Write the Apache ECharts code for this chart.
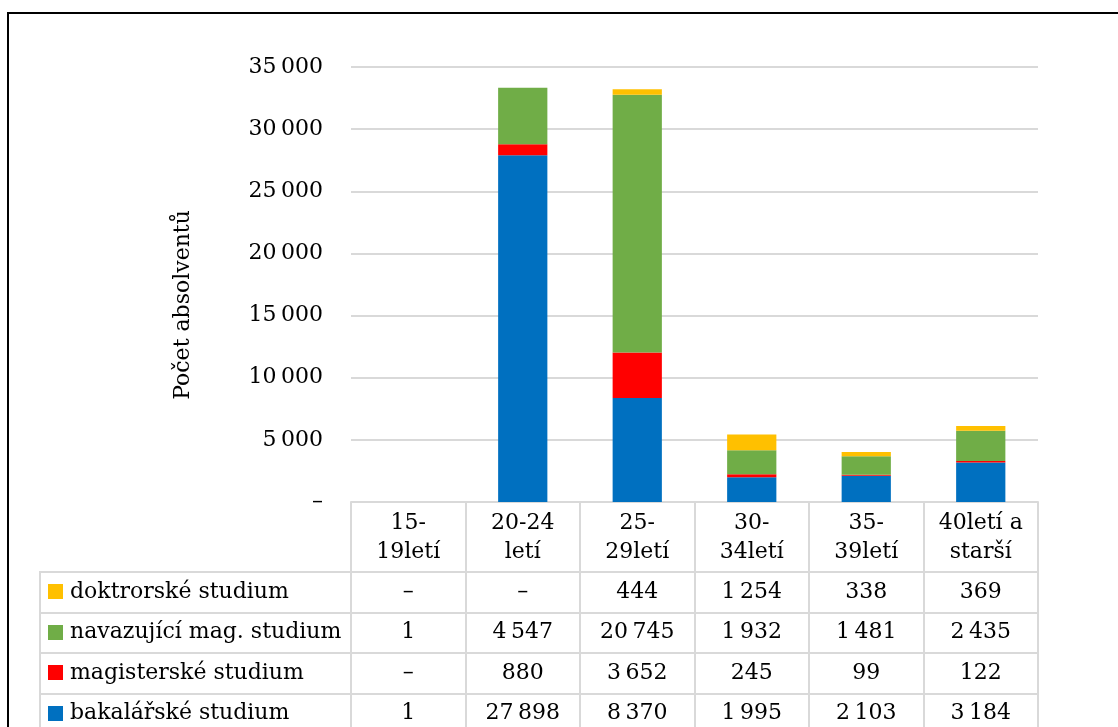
<!DOCTYPE html>
<html lang="cs">
<head>
<meta charset="utf-8">
<title>Počet absolventů podle věku a typu studia</title>
<script src="https://cdn.jsdelivr.net/npm/echarts@6/dist/echarts.min.js"></script>
<style>
  html, body { margin: 0; padding: 0; background: #fff; }
  #chart { width: 1118px; height: 727px; }
</style>
</head>
<body>
<div id="chart"></div>
<script>
// Věkové skupiny (kategorie osy x)
const categories = ['15-\n19letí', '20-24\nletí', '25-\n29letí', '30-\n34letí', '35-\n39letí', '40letí a\nstarší'];

// Počty absolventů podle typu studia (null = žádní absolventi)
const bakalarske = [1, 27898, 8370, 1995, 2103, 3184];
const magisterske = [null, 880, 3652, 245, 99, 122];
const navazujici = [1, 4547, 20745, 1932, 1481, 2435];
const doktorske = [null, null, 444, 1254, 338, 369];

const seriesNames = {
  bak: 'bakalářské studium',
  mag: 'magisterské studium',
  nav: 'navazující mag. studium',
  dok: 'doktrorské studium'
};

// Rozsah a krok osy y
const yMin = 0, yMax = 35000, yStep = 5000;

const colors = { bak: '#0070C0', mag: '#FF0000', nav: '#70AD47', dok: '#FFC000' };

const FONT = 'DejaVu Serif';
const FS = 22;
const GRID = '#d9d9d9';

function fmt(v) {
  if (v === null || v === undefined || v === 0) return '–';
  return String(v).replace(/\B(?=(\d{3})+(?!\d))/g, '\u2009');
}

const chart = echarts.init(document.getElementById('chart'), null, { renderer: 'canvas' });

const stacked = [
  { key: 'bak', data: bakalarske },
  { key: 'mag', data: magisterske },
  { key: 'nav', data: navazujici },
  { key: 'dok', data: doktorske }
];

chart.setOption({
  animation: false,
  textStyle: { fontFamily: FONT },
  grid: { left: 351, right: 80, top: 67, bottom: 225 },
  xAxis: {
    type: 'category',
    data: categories,
    axisLine: { lineStyle: { color: GRID, width: 2 } },
    axisTick: { show: false },
    axisLabel: {
      interval: 0, color: '#000', fontFamily: FONT, fontSize: FS,
      lineHeight: 29, margin: 7
    }
  },
  yAxis: {
    type: 'value',
    min: yMin, max: yMax, interval: yStep,
    axisLine: { show: false },
    axisTick: { show: false },
    axisLabel: { color: '#000', fontFamily: FONT, fontSize: FS, margin: 28, formatter: fmt },
    splitLine: { lineStyle: { color: GRID, width: 2 } }
  },
  series: stacked.map(s => ({
    name: seriesNames[s.key],
    type: 'bar',
    stack: 'celkem',
    barWidth: '43%',
    itemStyle: { color: colors[s.key] },
    data: s.data
  }))
});

// Datová tabulka pod grafem a legenda v jejím prvním sloupci
function drawTable() {
  const g = [];
  const x0 = chart.convertToPixel({ xAxisIndex: 0 }, 0);
  const x1 = chart.convertToPixel({ xAxisIndex: 0 }, 1);
  const step = x1 - x0;
  const right = Math.round(x0 + step * (categories.length - 0.5));
  const axisY = Math.round(chart.convertToPixel({ yAxisIndex: 0 }, 0));
  const headerBottom = 572;
  const rowH = 40.5;
  const legendLeft = 40;
  const rows = [
    { key: 'dok', data: doktorske },
    { key: 'nav', data: navazujici },
    { key: 'mag', data: magisterske },
    { key: 'bak', data: bakalarske }
  ];
  const bottom = headerBottom + rowH * rows.length;
  const line = (xa, ya, xb, yb) => g.push({
    type: 'line', silent: true,
    shape: { x1: xa, y1: ya, x2: xb, y2: yb },
    style: { stroke: GRID, lineWidth: 2 }
  });

  // svislé čáry sloupců
  for (let i = 0; i <= categories.length; i++) {
    const x = Math.round(x0 + step * (i - 0.5));
    line(x, axisY, x, bottom);
  }
  line(legendLeft, headerBottom, legendLeft, bottom);
  // vodorovné čáry řádků
  for (let r = 0; r <= rows.length; r++) {
    const y = Math.round(headerBottom + rowH * r);
    line(legendLeft - 1, y, right + 1, y);
  }

  rows.forEach((row, r) => {
    const cy = headerBottom + rowH * (r + 0.5);
    g.push({
      type: 'rect', silent: true,
      shape: { x: 48, y: Math.round(cy - 8), width: 15, height: 15 },
      style: { fill: colors[row.key] }
    });
    g.push({
      type: 'text', silent: true, x: 70, y: cy,
      style: {
        text: seriesNames[row.key], fill: '#000', font: FS + 'px "' + FONT + '"',
        align: 'left', verticalAlign: 'middle'
      }
    });
    row.data.forEach((v, i) => {
      const cx = chart.convertToPixel({ xAxisIndex: 0 }, i);
      g.push({
        type: 'text', silent: true, x: cx, y: cy,
        style: {
          text: fmt(v), fill: '#000', font: FS + 'px "' + FONT + '"',
          align: 'center', verticalAlign: 'middle'
        }
      });
    });
  });

  // název osy y
  g.push({
    type: 'text', silent: true, x: 183, y: 305, rotation: Math.PI / 2,
    style: {
      text: 'Počet absolventů', fill: '#000', font: FS + 'px "' + FONT + '"',
      align: 'center', verticalAlign: 'middle'
    }
  });

  // rámeček grafu
  g.push({
    type: 'rect', silent: true,
    shape: { x: 8, y: 13, width: 1200, height: 800 },
    style: { fill: 'none', stroke: '#000', lineWidth: 2 }
  });

  chart.setOption({ graphic: g });
}
drawTable();
</script>
</body>
</html>
